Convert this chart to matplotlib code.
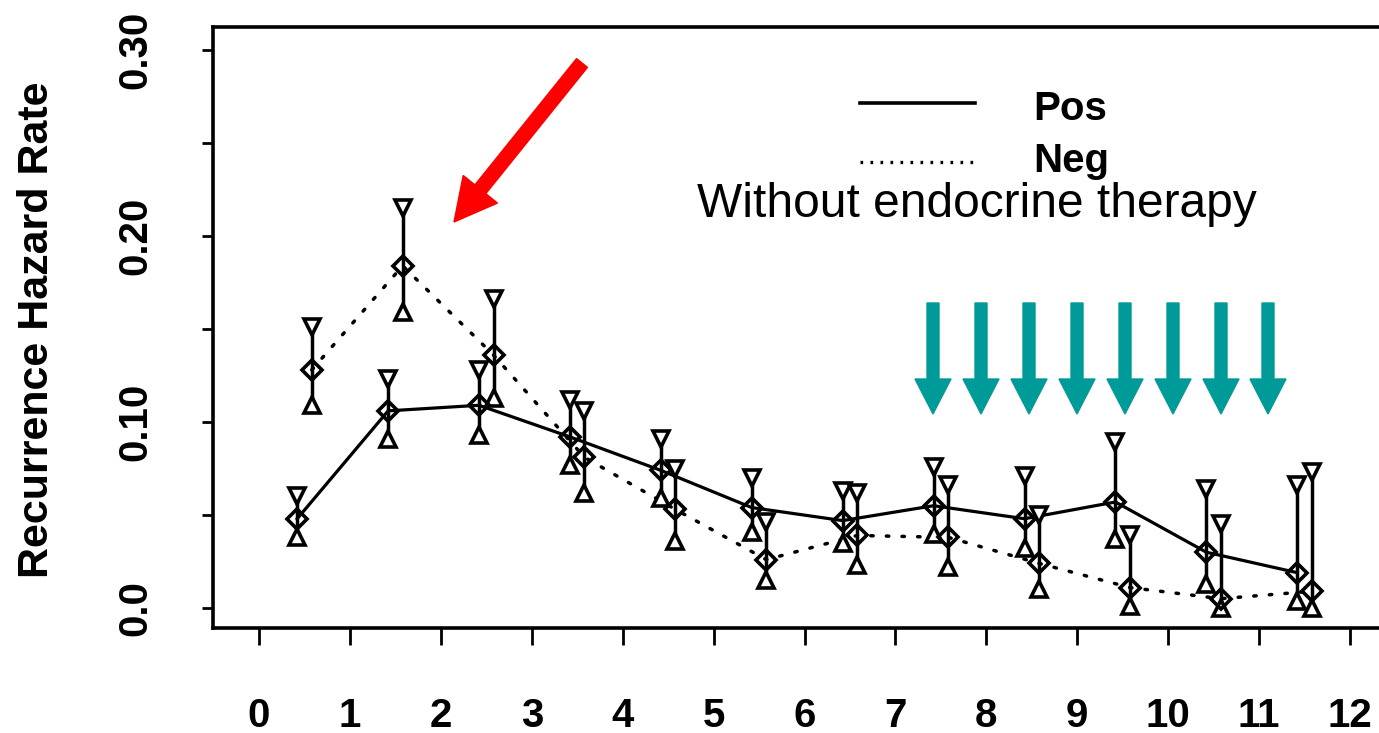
import matplotlib
matplotlib.use('Agg')
import matplotlib.pyplot as plt
from matplotlib.patches import FancyArrow
from matplotlib.transforms import IdentityTransform

# years since surgery, one point per year, Pos slightly left of Neg
years = [0, 1, 2, 3, 4, 5, 6, 7, 8, 9, 10, 11]
pos_rate = [0.048, 0.106, 0.109, 0.092, 0.074, 0.054, 0.047, 0.055, 0.048, 0.057, 0.030, 0.019]
pos_upper = [0.060, 0.123, 0.128, 0.112, 0.091, 0.070, 0.063, 0.076, 0.071, 0.089, 0.064, 0.066]
pos_lower = [0.038, 0.091, 0.093, 0.077, 0.059, 0.041, 0.035, 0.040, 0.032, 0.037, 0.013, 0.004]
neg_rate = [0.128, 0.184, 0.136, 0.081, 0.053, 0.026, 0.039, 0.038, 0.024, 0.011, 0.005, 0.009]
neg_upper = [0.151, 0.215, 0.166, 0.106, 0.075, 0.046, 0.062, 0.066, 0.050, 0.039, 0.045, 0.073]
neg_lower = [0.109, 0.159, 0.113, 0.062, 0.036, 0.015, 0.023, 0.022, 0.010, 0.001, 0.000, 0.000]

x_ticks = list(range(0, 13))
y_ticks = [0.0, 0.05, 0.10, 0.15, 0.20, 0.25, 0.30]
y_labels = ['0.0', '', '0.10', '', '0.20', '', '0.30']

plt.rcParams['font.family'] = ['Liberation Sans', 'DejaVu Sans']

fig = plt.figure(figsize=(13.79, 7.33), dpi=100)
ax = fig.add_axes([213 / 1379, 105 / 733, 1177 / 1379, 601 / 733])

pos_x = [y + 0.42 for y in years]
neg_x = [y + 0.58 for y in years]

# series lines
ax.plot(pos_x, pos_rate, '-', color='black', lw=2.3, zorder=2)
ax.plot(neg_x, neg_rate, color='black', lw=2.5, linestyle=(0, (0.7, 3.8)),
        dash_capstyle='round', zorder=2)

# error bars with triangle ends and diamond centres
for xs, mid, hi, lo in [(pos_x, pos_rate, pos_upper, pos_lower),
                        (neg_x, neg_rate, neg_upper, neg_lower)]:
    ax.vlines(xs, lo, hi, color='black', lw=2.5, zorder=3)
    ax.plot(xs, hi, 'v', ms=11.5, mfc='white', mec='black', mew=2.6, ls='none', zorder=4)
    ax.plot(xs, lo, '^', ms=11.5, mfc='white', mec='black', mew=2.6, ls='none', zorder=4)
    ax.plot(xs, mid, 'D', ms=10, mfc='none', mec='black', mew=2.6, ls='none', zorder=5)

ax.set_xlim(-0.506, 12.44)
ax.set_ylim(-0.01075, 0.3124)

ax.set_xticks(x_ticks)
ax.set_xticklabels([str(t) for t in x_ticks], fontsize=29, fontweight='bold')
ax.set_yticks(y_ticks)
ax.set_yticklabels(y_labels, fontsize=29, fontweight='bold', rotation=90, va='center')
ax.tick_params(axis='x', length=12, width=2, pad=38)
ax.tick_params(axis='y', length=8, width=2, pad=34)

for side in ['left', 'top', 'bottom']:
    ax.spines[side].set_linewidth(2.6)
ax.spines['right'].set_visible(False)

fig.text(37 / 1379, 0.55, 'Recurrence Hazard Rate', rotation=90, ha='center',
         va='center', fontsize=31, fontweight='bold')

# legend drawn by hand
ax.plot([0.5497, 0.6474], [0.8735, 0.8735], transform=ax.transAxes, color='black', lw=2.6)
ax.plot([0.5497, 0.6474], [0.7754, 0.7754], transform=ax.transAxes, color='black', lw=2.4,
        linestyle=(0, (0.8, 2.2)))
ax.text(0.6967, 0.8453, 'Pos', transform=ax.transAxes, fontsize=29, fontweight='bold',
        va='baseline')
ax.text(0.6967, 0.758, 'Neg', transform=ax.transAxes, fontsize=29, fontweight='bold',
        va='baseline')

fig.text(697 / 1379, (733 - 217) / 733, 'Without endocrine therapy', fontsize=34.5,
         va='baseline', ha='left')

# red arrow pointing at the year-2 peak
red = FancyArrow(582, 670, -128, -159, width=14, head_width=44, head_length=42,
                 length_includes_head=True, color='#ff0000', transform=IdentityTransform())
fig.add_artist(red)

# teal arrows over the later years
for cx in [933, 981, 1029, 1077, 1125, 1173, 1221, 1268]:
    arr = FancyArrow(cx, 430, 0, -111, width=12, head_width=36, head_length=35,
                     length_includes_head=True, color='#009a98', transform=IdentityTransform())
    fig.add_artist(arr)

fig.savefig('out.png', dpi=100)
